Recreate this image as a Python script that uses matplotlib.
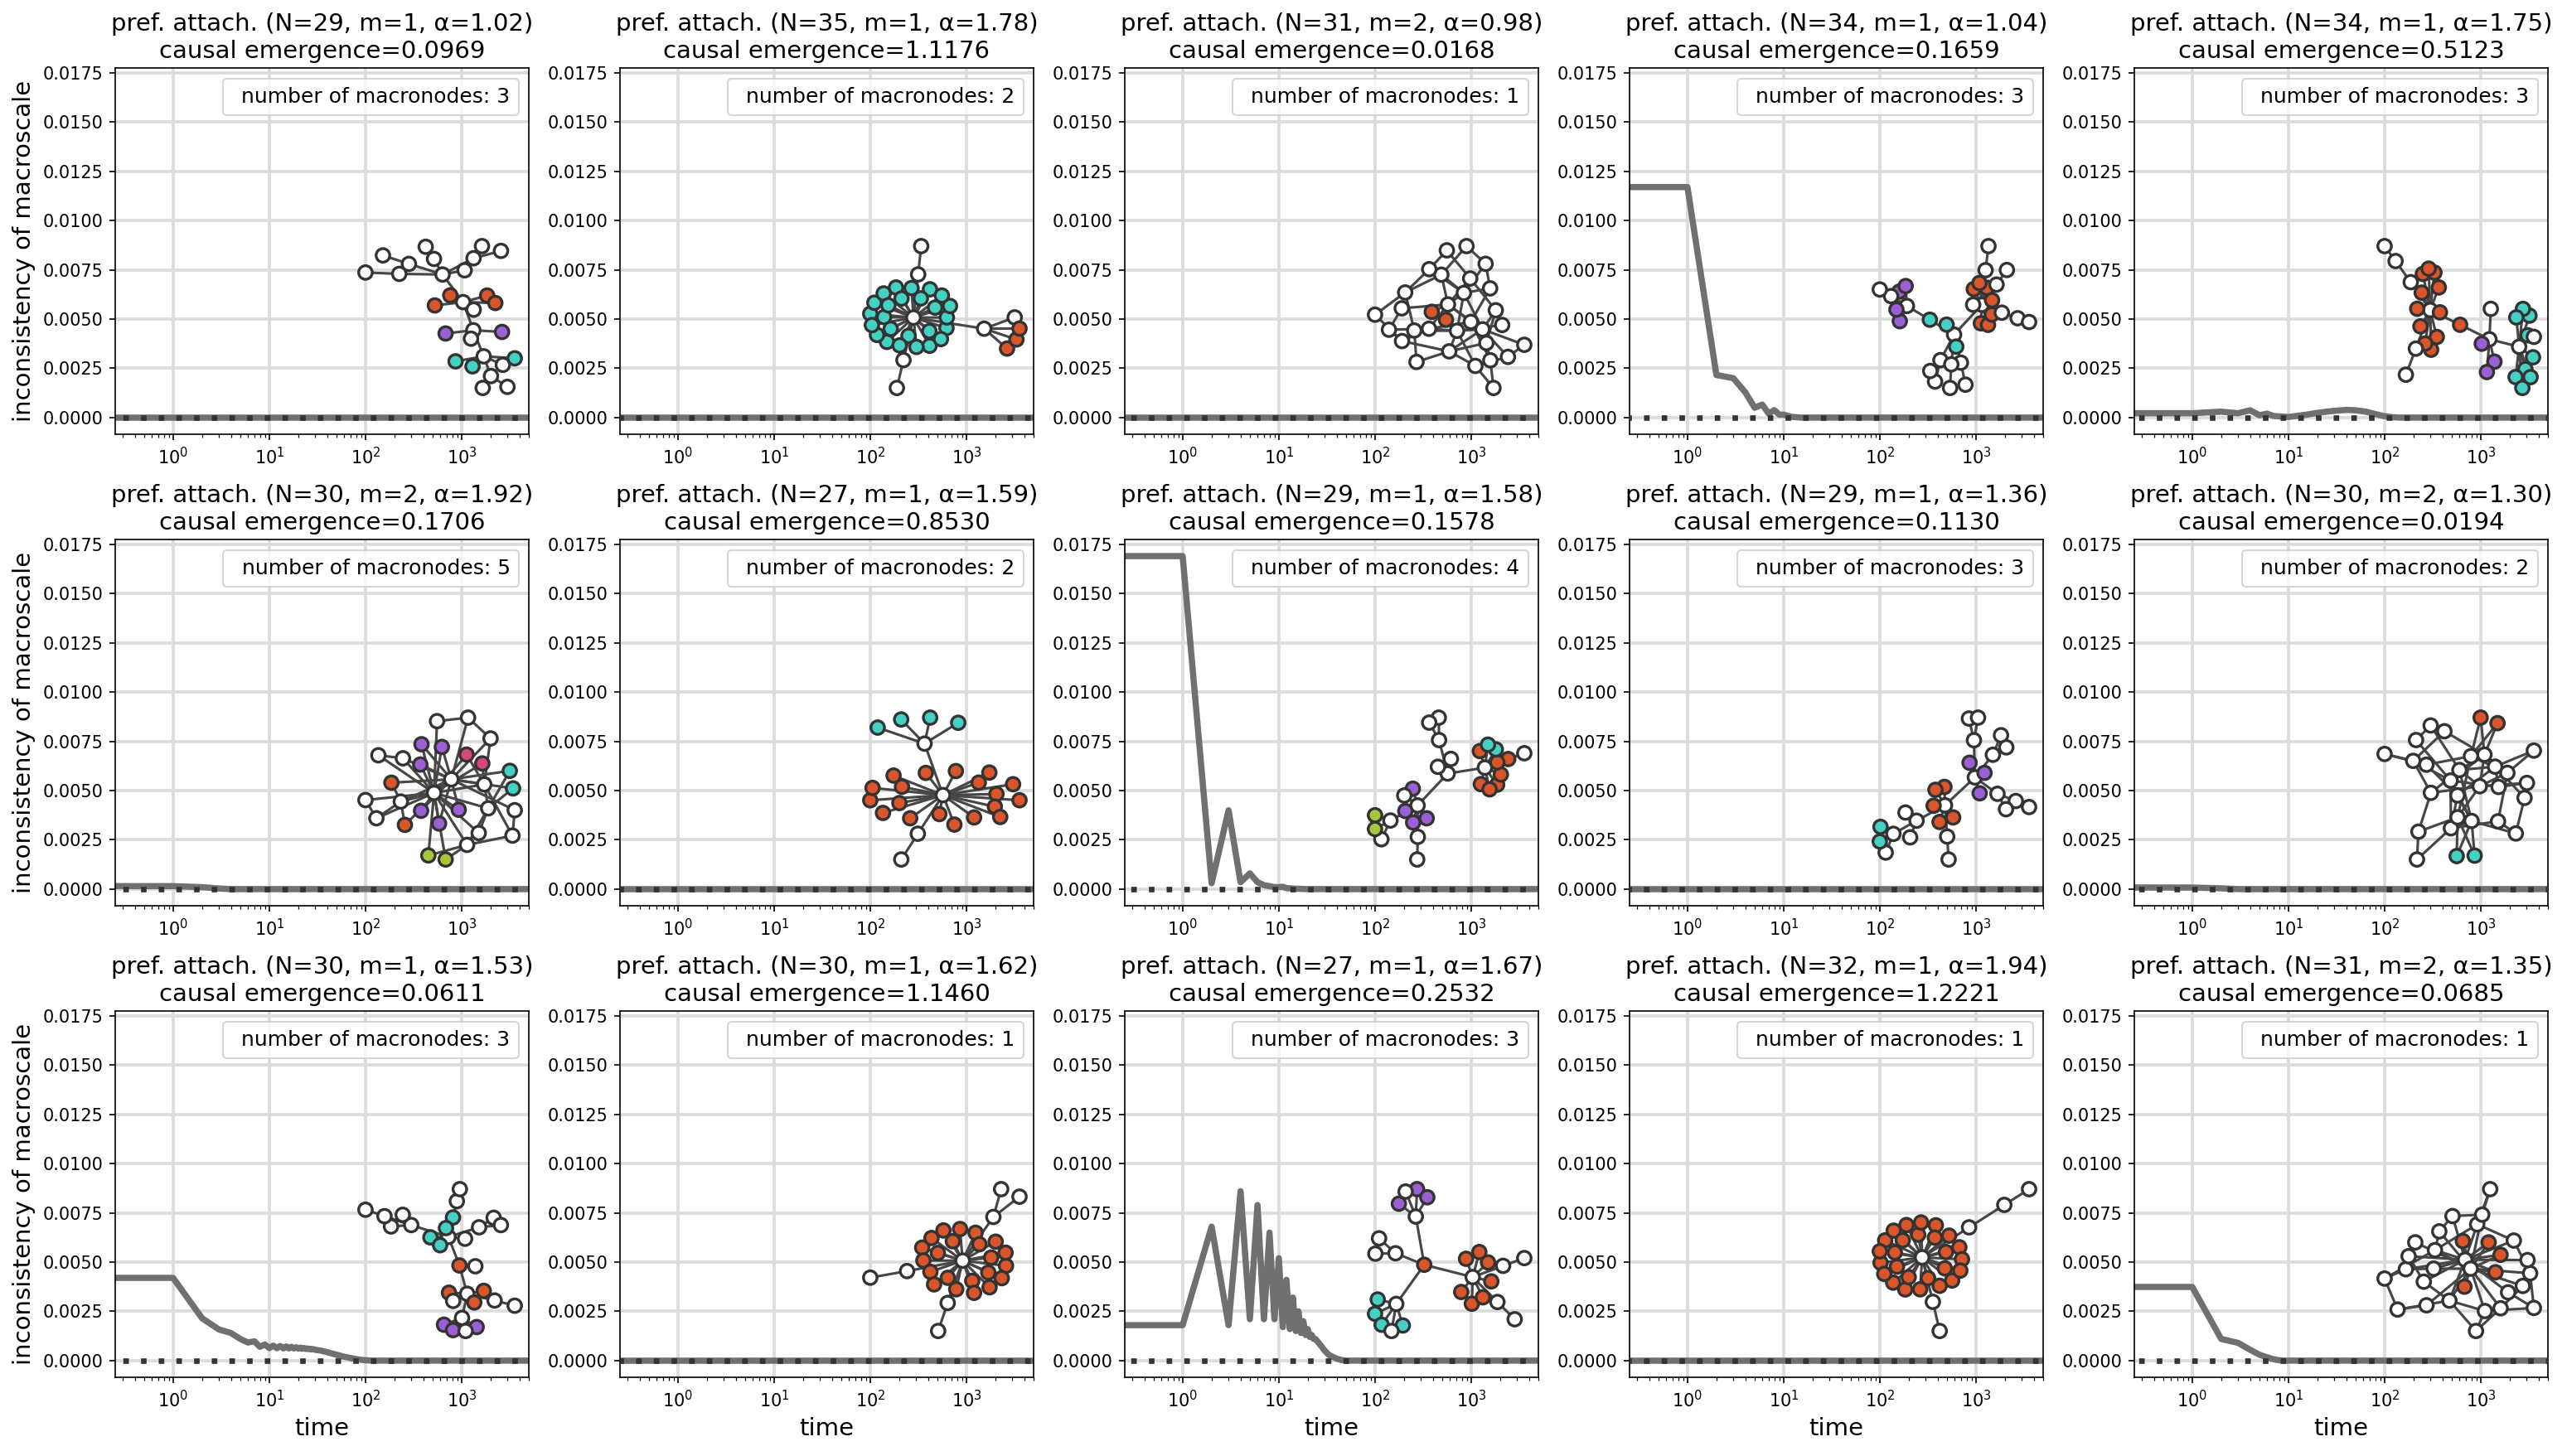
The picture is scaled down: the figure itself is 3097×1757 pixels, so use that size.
import numpy as np
import matplotlib
matplotlib.use("Agg")
import matplotlib.pyplot as plt
from matplotlib.collections import LineCollection
from matplotlib.lines import Line2D
from matplotlib.ticker import FormatStrFormatter

# panel parameters, row by row
N_nodes = [29, 35, 31, 34, 34, 30, 27, 29, 29, 30, 30, 30, 27, 32, 31]
m_edges = [1, 1, 2, 1, 1, 2, 1, 1, 1, 2, 1, 1, 1, 1, 2]
alphas = [1.02, 1.78, 0.98, 1.04, 1.75, 1.92, 1.59, 1.58, 1.36, 1.30,
          1.53, 1.62, 1.67, 1.94, 1.35]
ce_values = [0.0969, 1.1176, 0.0168, 0.1659, 0.5123, 0.1706, 0.8530, 0.1578,
             0.1130, 0.0194, 0.0611, 1.1460, 0.2532, 1.2221, 0.0685]
n_macro = [3, 2, 1, 3, 3, 5, 2, 4, 3, 2, 3, 1, 3, 1, 1]

# inconsistency over time
time_zero = [0, 5000]
incons_zero = [0.0, 0.0]

time_r1c4 = [0, 1, 2, 3, 4, 5, 6, 7, 8, 9, 10, 12, 15, 5000]
incons_r1c4 = [0.0117, 0.0117, 0.00216, 0.0020, 0.00128, 0.0005, 0.00066, 0.0002,
               0.00038, 0.00015, 0.00015, 0.00004, 0.0, 0.0]

time_r1c5 = [0, 1, 2, 3, 4, 5, 6, 7, 8, 10, 12, 15, 20, 27, 35, 41, 50, 64, 80,
             100, 120, 140, 5000]
incons_r1c5 = [0.00022, 0.00022, 0.0003, 0.00022, 0.00037, 0.00012, 0.0002, 0.00008,
               0.00006, 0.00003, 0.00008, 0.00014, 0.00024, 0.00032, 0.00037, 0.00039,
               0.00037, 0.0003, 0.00018, 0.00007, 0.00002, 0.0, 0.0]

time_r2c1 = [0, 1, 2, 3, 4, 5000]
incons_r2c1 = [0.00015, 0.00015, 0.0001, 0.00003, 0.0, 0.0]

time_r2c3 = [0, 1, 2, 3, 4, 5, 6, 7, 8, 9, 10, 11, 12, 15, 20, 5000]
incons_r2c3 = [0.0169, 0.0169, 0.0003, 0.0040, 0.00035, 0.0008, 0.00035, 0.0002,
               0.00015, 0.0001, 0.0001, 0.00012, 0.00005, 0.00002, 0.0, 0.0]

time_r2c5 = [0, 1, 2, 3, 5000]
incons_r2c5 = [0.00008, 0.00008, 0.00004, 0.0, 0.0]

time_r3c1 = [0, 1, 2, 3, 4, 5, 6, 7, 8, 9, 10, 11, 12, 13, 14, 15, 16, 17, 18, 19,
             20, 21, 22, 23, 24, 25, 26, 27, 28, 29, 30, 35, 40, 45, 50, 60, 70, 80,
             90, 100, 120, 5000]
incons_r3c1 = [0.0042, 0.0042, 0.00215, 0.00158, 0.0014, 0.0011, 0.00092, 0.00098,
               0.0007, 0.00082, 0.00064, 0.00076, 0.00063, 0.00074, 0.00062, 0.00072,
               0.00062, 0.0007, 0.00062, 0.00068, 0.00061, 0.00066, 0.0006, 0.00064,
               0.00059, 0.00062, 0.00058, 0.0006, 0.00057, 0.00058, 0.00055, 0.0005,
               0.00043, 0.00036, 0.0003, 0.0002, 0.00013, 0.00008, 0.00004, 0.00002,
               0.0, 0.0]

time_r3c3 = [0, 1, 2, 3, 4, 5, 6, 7, 8, 9, 10, 11, 12, 13, 14, 15, 16, 17, 18, 19,
             20, 21, 22, 23, 24, 26, 28, 30, 33, 36, 40, 45, 50, 5000]
incons_r3c3 = [0.0018, 0.0018, 0.0068, 0.0018, 0.0086, 0.0021, 0.0079, 0.0021,
               0.0065, 0.0021, 0.0052, 0.0017, 0.0041, 0.0016, 0.0032, 0.0015,
               0.0025, 0.0014, 0.0020, 0.0013, 0.0016, 0.0012, 0.0013, 0.0011,
               0.0011, 0.0009, 0.0007, 0.0005, 0.0003, 0.0002, 0.0001, 0.00003,
               0.0, 0.0]

time_r3c5 = [0, 1, 2, 3, 4, 5, 6, 7, 8, 9, 5000]
incons_r3c5 = [0.00374, 0.00374, 0.0011, 0.0009, 0.00055, 0.0003, 0.00017, 0.00007,
               0.00002, 0.0, 0.0]

times = [time_zero, time_zero, time_zero, time_r1c4, time_r1c5,
         time_r2c1, time_zero, time_r2c3, time_zero, time_r2c5,
         time_r3c1, time_zero, time_r3c3, time_zero, time_r3c5]
incons = [incons_zero, incons_zero, incons_zero, incons_r1c4, incons_r1c5,
          incons_r2c1, incons_zero, incons_r2c3, incons_zero, incons_r2c5,
          incons_r3c1, incons_zero, incons_r3c3, incons_zero, incons_r3c5]

# network structure: trees as parent lists, m=2 graphs as target pairs
tree_r1c1 = [-1, 0, 1, 2, 3, 3, 2, 2, 2, 2, 1, 1, 1, 0, 0, 0, 0, 0, 0, 18, 19, 18,
             21, 21, 18, 18, 25, 18, 27]
tree_r1c2 = [-1, 0, 1, 0, 3, 0, 5, 5, 5, 5, 0, 0, 0, 0, 0, 0, 0, 0, 0, 0, 0, 0, 0,
             0, 0, 0, 0, 0, 0, 0, 0, 0, 0, 0, 0]
pairs_r1c3 = [(0, 1), (0, 1), (0, 2), (1, 3), (2, 3), (0, 4), (1, 5), (3, 6), (2, 4),
              (0, 7), (5, 8), (1, 9), (4, 6), (0, 10), (3, 11), (2, 12), (7, 9),
              (1, 13), (6, 14), (0, 15), (8, 16), (4, 17), (2, 11), (10, 18),
              (5, 19), (3, 20), (12, 14), (2, 3), (2, 3)]
tree_r1c4 = [-1, 0, 0, 0, 0, 0, 0, 0, 0, 0, 9, 0, 11, 0, 13, 14, 0, 1, 1, 1, 1, 20,
             1, 22, 22, 1, 25, 19, 27, 27, 27, 27, 27, 32]
tree_r1c5 = [-1, 0, 1, 2, 0, 0, 0, 0, 0, 0, 0, 0, 0, 0, 0, 0, 15, 0, 17, 18, 2, 2,
             2, 2, 3, 3, 3, 3, 3, 3, 3, 3, 3, 3]
pairs_r2c1 = [(0, 1), (0, 2), (1, 0), (0, 3), (1, 2), (0, 4), (2, 5), (0, 1), (1, 6),
              (0, 7), (3, 0), (1, 8), (0, 9), (0, 1), (0, 1), (0, 1), (0, 1), (0, 1),
              (0, 1), (0, 2), (0, 2), (1, 3), (1, 3), (0, 5), (0, 5), (1, 4), (1, 4),
              (0, 10)]
tree_r2c2 = [-1, 0, 1, 0, 3, 3, 3, 3, 0, 0, 0, 0, 0, 0, 0, 0, 0, 0, 0, 0, 0, 0, 0,
             0, 0, 0, 0]
tree_r2c3 = [-1, 0, 0, 0, 0, 0, 0, 0, 0, 0, 4, 0, 11, 11, 11, 14, 14, 11, 17, 17,
             17, 17, 17, 17, 23, 17, 25, 25, 25]
tree_r2c4 = [-1, 0, 0, 0, 0, 4, 5, 4, 0, 8, 8, 0, 11, 11, 0, 14, 14, 14, 14, 14,
             14, 20, 14, 22, 22, 22, 25, 25, 25]
pairs_r2c5 = [(0, 1), (0, 1), (1, 2), (0, 3), (2, 4), (1, 3), (0, 5), (4, 6), (2, 7),
              (3, 8), (1, 9), (5, 6), (0, 10), (7, 11), (2, 12), (8, 9), (4, 13),
              (1, 14), (6, 15), (3, 16), (10, 17), (0, 18), (5, 12), (2, 19),
              (4, 11), (0, 8), (4, 11), (0, 8)]
tree_r3c1 = [-1, 0, 0, 0, 0, 0, 0, 6, 6, 0, 9, 9, 9, 12, 3, 14, 0, 16, 16, 18, 18,
             18, 18, 18, 23, 18, 25, 25, 25, 25]
tree_r3c2 = [-1, 0, 1, 0, 3, 3, 0, 6, 0, 0, 0, 0, 0, 0, 0, 0, 0, 0, 0, 0, 0, 0, 0,
             0, 0, 0, 0, 0, 0, 0]
tree_r3c3 = [-1, 0, 1, 2, 2, 2, 2, 1, 7, 7, 1, 10, 10, 10, 10, 10, 0, 0, 0, 0, 0,
             0, 0, 0, 23, 0, 25]
tree_r3c4 = [-1, 0, 1, 2, 0, 4, 0, 0, 0, 0, 0, 0, 0, 0, 0, 0, 0, 0, 0, 0, 0, 0, 0,
             0, 0, 0, 0, 0, 0, 0, 0, 0]
pairs_r3c5 = [(0, 1), (0, 1), (1, 2), (0, 3), (1, 0), (2, 4), (0, 5), (1, 3), (0, 6),
              (1, 7), (2, 0), (1, 8), (0, 9), (3, 10), (1, 11), (0, 12), (4, 13),
              (1, 14), (2, 15), (0, 16), (1, 17), (0, 18), (5, 19), (1, 20), (0, 1),
              (0, 1), (0, 1), (0, 1), (0, 1)]

structures = [tree_r1c1, tree_r1c2, pairs_r1c3, tree_r1c4, tree_r1c5,
              pairs_r2c1, tree_r2c2, tree_r2c3, tree_r2c4, pairs_r2c5,
              tree_r3c1, tree_r3c2, tree_r3c3, tree_r3c4, pairs_r3c5]

# macronode membership
groups = [
    {'teal': [6, 7, 9], 'purple': [10, 11], 'orange': [13, 14, 16, 17]},
    {'orange': [7, 8, 9], 'teal': list(range(10, 35))},
    {'orange': [29, 30]},
    {'orange': [2, 3, 4, 5, 6, 7, 8], 'teal': [17, 18, 19], 'purple': [28, 29, 30, 31]},
    {'orange': [1, 4, 5, 6, 7, 8, 9, 10, 11, 12, 13, 14], 'purple': [20, 21, 22],
     'teal': list(range(24, 33))},
    {'purple': [15, 16, 17, 18, 19, 20], 'pink': [21, 22], 'teal': [23, 24],
     'green': [25, 26], 'orange': [27, 28]},
    {'teal': [4, 5, 6, 7], 'orange': list(range(8, 27))},
    {'orange': [1, 2, 3, 4, 5, 6, 7], 'teal': [8, 9], 'purple': [18, 19, 20, 21],
     'green': [27, 28]},
    {'purple': [1, 2, 3], 'orange': [15, 16, 17, 18, 19], 'teal': [27, 28]},
    {'teal': [26, 28], 'orange': [27, 29]},
    {'teal': [1, 2, 3, 4], 'orange': [16, 19, 20, 21], 'purple': [26, 27, 28]},
    {'orange': list(range(8, 30))},
    {'orange': [1, 16, 17, 18, 19, 20, 21, 22], 'purple': [3, 4, 5],
     'teal': [11, 12, 13, 14]},
    {'orange': list(range(6, 32))},
    {'orange': [26, 27, 28, 29, 30]},
]

palette = {'orange': '#d9552a', 'teal': '#45d0c4', 'purple': '#9b5fd6',
           'green': '#a8c63c', 'pink': '#d6477f'}


def edge_list(struct, m):
    if m == 1:
        return [(i, p) for i, p in enumerate(struct) if p >= 0]
    edges = [(1, 0)]
    for k, (a, b) in enumerate(struct):
        edges.append((k + 2, a))
        edges.append((k + 2, b))
    return edges


def spring_layout(edges, n, iterations=300):
    # Fruchterman-Reingold, started from a sunflower spiral
    idx = np.arange(n)
    r = np.sqrt((idx + 0.5) / n)
    ang = idx * np.pi * (3 - np.sqrt(5))
    pos = np.column_stack([r * np.cos(ang), r * np.sin(ang)])
    A = np.zeros((n, n))
    for i, j in edges:
        A[i, j] = A[j, i] = 1
    k = np.sqrt(1.0 / n)
    t = 0.1 * max(np.ptp(pos[:, 0]), np.ptp(pos[:, 1]))
    dt = t / (iterations + 1)
    for _ in range(iterations):
        delta = pos[:, None, :] - pos[None, :, :]
        dist = np.linalg.norm(delta, axis=-1)
        dist = np.clip(dist, 0.01, None)
        disp = np.einsum('ijk,ij->ik', delta, k * k / dist ** 2 - A * dist / k)
        length = np.clip(np.linalg.norm(disp, axis=-1), 0.01, None)
        pos += disp * (t / length)[:, None]
        t -= dt
    return pos


def draw_graph(ax, edges, n, grp):
    pos = spring_layout(edges, n)
    sub = ax.inset_axes([0.587, 0.107, 0.397, 0.426])
    sub.set_axis_off()
    segs = [[pos[i], pos[j]] for i, j in edges]
    sub.add_collection(LineCollection(segs, colors='#474747', linewidths=1.5, zorder=1))
    cols = ['white'] * n
    for name, members in grp.items():
        for v in members:
            cols[v] = palette[name]
    sub.scatter(pos[:, 0], pos[:, 1], s=62, c=cols, edgecolors='#333333',
                linewidths=1.6, zorder=2, clip_on=False)
    sub.margins(0.05)


fig = plt.figure(figsize=(3097 / 150, 1757 / 150), dpi=150)
W, H = 3097.0, 1757.0

for i in range(15):
    r, c = divmod(i, 5)
    left = 139 + 609 * c
    top = 82 + 569 * r
    ax = fig.add_axes([left / W, 1 - (top + 442) / H, 499 / W, 442 / H])
    ax.plot(times[i], incons[i], color='#707070', lw=3.6, zorder=2)
    ax.plot([0, 5000], [0, 0], color='#333333', lw=3.2, dashes=(1, 2.2), zorder=3)
    ax.set_xscale('log')
    ax.set_xlim(0.25, 5000)
    ax.set_ylim(-0.000845, 0.017745)
    ax.set_yticks(np.arange(0, 0.0176, 0.0025))
    ax.yaxis.set_major_formatter(FormatStrFormatter('%.4f'))
    ax.grid(True, color='#dcdcdc', lw=1.8, zorder=0)
    ax.set_axisbelow(True)
    ax.tick_params(labelsize=10)
    ax.set_title(f"pref. attach. (N={N_nodes[i]}, m={m_edges[i]}, \u03b1={alphas[i]:.2f})\n"
                 f"causal emergence={ce_values[i]:.4f}", fontsize=14)
    handle = Line2D([], [], ls='none', label=f"number of macronodes: {n_macro[i]}")
    ax.legend(handles=[handle], loc='upper right', fontsize=12,
              handlelength=0, handletextpad=0.5)
    if c == 0:
        ax.set_ylabel('inconsistency of macroscale', fontsize=14)
    if r == 2:
        ax.set_xlabel('time', fontsize=14)
    draw_graph(ax, edge_list(structures[i], m_edges[i]), N_nodes[i], groups[i])

fig.savefig('out.png', dpi=150)
